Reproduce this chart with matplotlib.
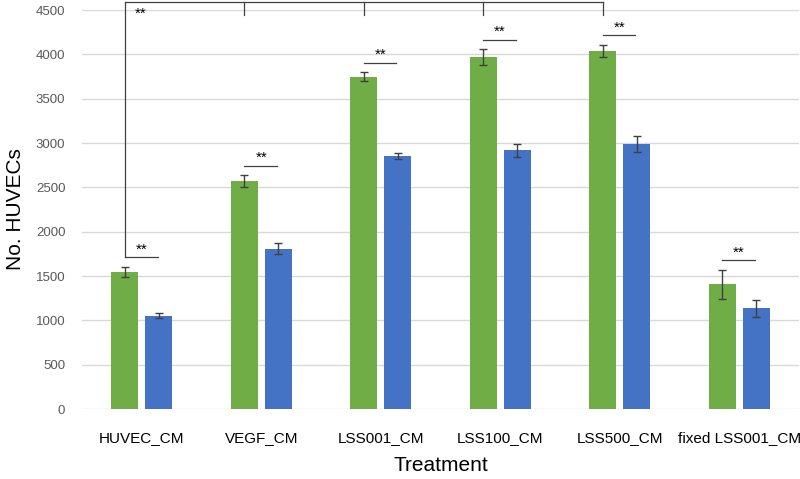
import matplotlib

matplotlib.use("Agg")
import matplotlib.pyplot as plt
import numpy as np

# ── Data ──
treatments = ["HUVEC_CM", "VEGF_CM", "LSS001_CM", "LSS100_CM", "LSS500_CM", "fixed LSS001_CM"]
green_vals = [1550, 2575, 3750, 3968, 4040, 1408]
green_err = [55, 65, 50, 88, 70, 165]
blue_vals = [1055, 1808, 2856, 2918, 2990, 1137]
blue_err = [28, 62, 37, 75, 88, 97]

GREEN = "#70AD47"
BLUE = "#4472C4"
GRID = "#D9D9D9"
plt.rcParams.update({
    "font.family": ["Liberation Sans", "DejaVu Sans"],
})

fig = plt.figure(figsize=(8, 4.79), dpi=100)
ax = fig.add_axes([0.1025, 0.146, 0.896, 0.833])

x = np.arange(len(treatments))
w = 0.226
off = 0.142
ekw = dict(ecolor="#404040", elinewidth=1, capsize=3, capthick=1)
ax.bar(x - off, green_vals, w, color=GREEN, yerr=green_err, error_kw=ekw, zorder=3)
ax.bar(x + off, blue_vals, w, color=BLUE, yerr=blue_err, error_kw=ekw, zorder=3)

ax.set_xlim(-0.5, len(treatments) - 0.5)
ax.set_ylim(0, 4500)
ax.set_yticks(np.arange(0, 4501, 500))
ax.grid(axis="y", color=GRID, lw=1, zorder=0)
for s in ax.spines.values():
    s.set_visible(False)
ax.tick_params(axis="y", length=0, labelsize=9.5, labelcolor="#595959", pad=12)
ax.tick_params(axis="x", length=0, labelsize=11, pad=16)
ax.set_xticks(x)
ax.set_xticklabels(treatments)
ax.set_ylabel("No. HUVECs", fontsize=15, labelpad=8)
ax.set_xlabel("Treatment", fontsize=15, labelpad=8)

# pair brackets (green vs blue)
pair_y = []
for i in range(len(treatments)):
    y = green_vals[i] + green_err[i] + 105
    pair_y.append(y)
    ax.plot([x[i] - off, x[i] + off - 0.01], [y, y], color="#404040", lw=0.9, zorder=4)
    ax.text(x[i], y + 10, "**", ha="center", va="bottom", fontsize=11, zorder=4)

# big bracket: HUVEC_CM vs VEGF/LSS conditions
top = 4590
tick_end = 4440
ax.plot([x[0] - off, x[0] - off], [pair_y[0], top], color="#404040", lw=0.9, clip_on=False)
ax.plot([x[0] - off, x[4] - off], [top, top], color="#404040", lw=0.9, clip_on=False)
for i in range(1, 5):
    ax.plot([x[i] - off, x[i] - off], [top, tick_end], color="#404040", lw=0.9, clip_on=False)
ax.text(x[0] - off + 0.08, 4540, "**", ha="left", va="top", fontsize=11)

fig.savefig("out.png", dpi=100, facecolor="white")
